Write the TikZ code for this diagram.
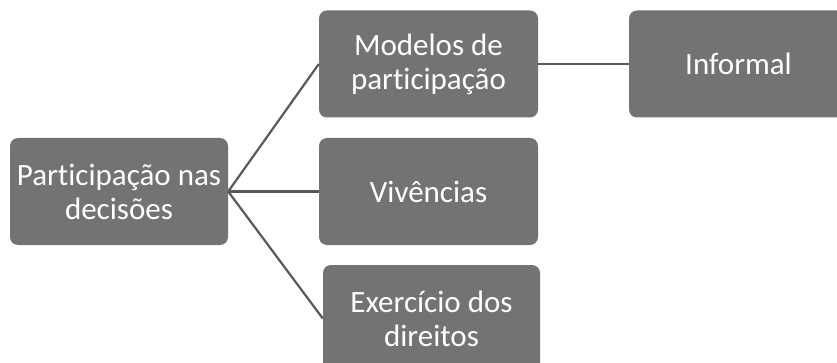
\documentclass[tikz,border=0pt]{standalone}
\usepackage{fontspec}
\setmainfont{Carlito}[Ligatures={NoCommon}]
\definecolor{boxgray}{RGB}{115,115,115}
\definecolor{linegray}{RGB}{89,89,89}
\tikzset{
  smbox/.style={fill=boxgray, rounded corners=8pt, text=white, align=center,
    inner sep=0pt, font=\fontsize{31}{34}\selectfont},
  conn/.style={draw=linegray, line width=2.2pt}
}
\begin{document}
\begin{tikzpicture}[x=1pt,y=-1pt]
\clip (0,0) rectangle (837,363);
\fill[white] (0,0) rectangle (837,363);
\node[smbox, minimum width=218pt, minimum height=107pt] (root) at (119,191.5) {Participação nas\\decisões};
\node[smbox, minimum width=219pt, minimum height=107pt] (mod) at (428.5,64) {Modelos de\\participação};
\node[smbox, minimum width=219pt, minimum height=107pt] (inf) at (738.5,64) {Informal};
\node[smbox, minimum width=219pt, minimum height=107pt] (viv) at (428.5,191.5) {Vivências};
\node[smbox, minimum width=217pt, minimum height=107pt] (exe) at (431.5,318.5) {Exercício dos\\direitos};
\draw[conn] (root.east) -- (mod.west);
\draw[conn] (root.east) -- (viv.west);
\draw[conn] (root.east) -- (exe.west);
\draw[conn] (mod.east) -- (inf.west);
\end{tikzpicture}
\end{document}
